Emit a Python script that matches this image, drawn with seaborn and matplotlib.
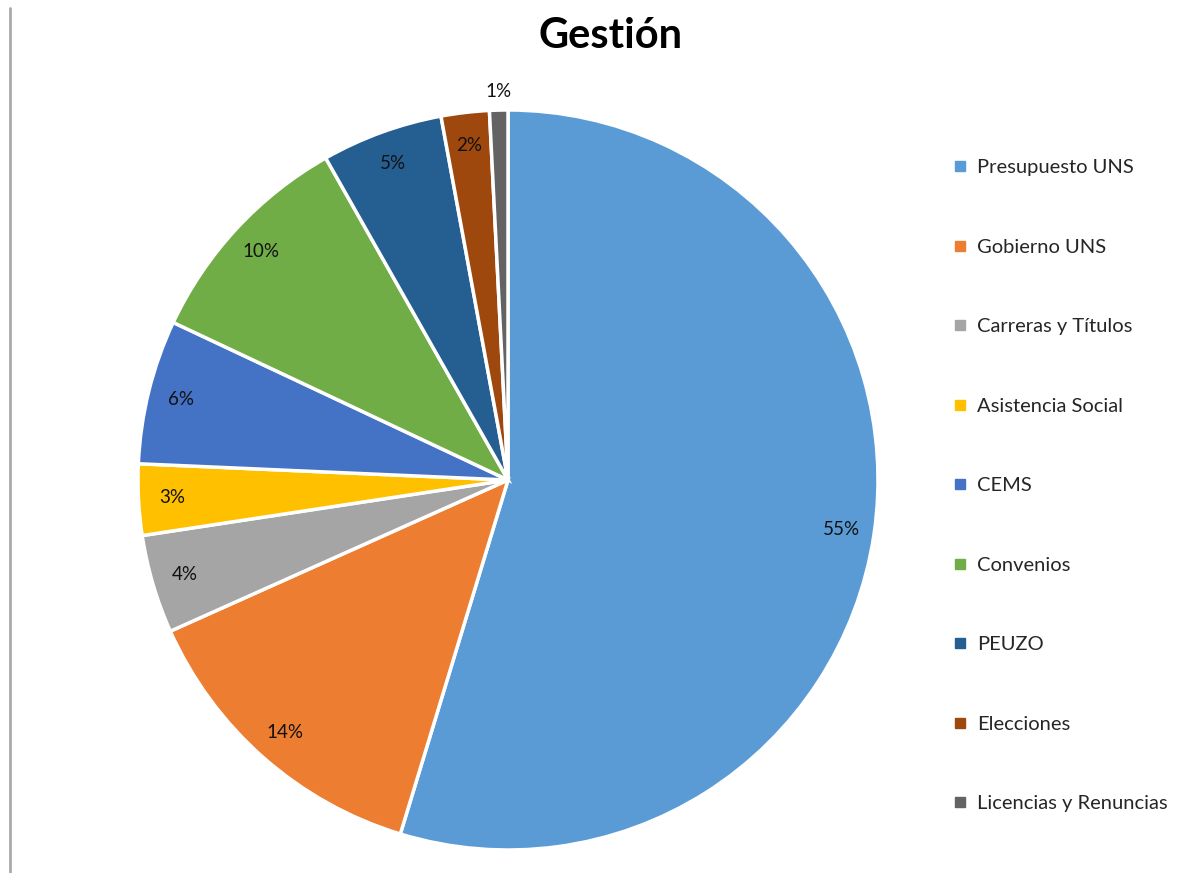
import numpy as np
import seaborn as sns
import matplotlib.pyplot as plt
from matplotlib.lines import Line2D

sns.set_style("white")
plt.rcParams['font.family'] = ['Lato', 'DejaVu Sans']

categories = ["Presupuesto UNS", "Gobierno UNS", "Carreras y Títulos", "Asistencia Social",
              "CEMS", "Convenios", "PEUZO", "Elecciones", "Licencias y Renuncias"]
values = [54.7, 13.6, 4.3, 3.1, 6.3, 9.8, 5.3, 2.1, 0.8]
colors = ["#5B9BD5", "#ED7D31", "#A5A5A5", "#FFC000", "#4472C4",
          "#70AD47", "#255E91", "#9E480E", "#636363"]

fig = plt.figure(figsize=(11.99, 8.73), dpi=100)
ax = fig.add_axes([138 / 1199, 23 / 873, 740 / 1199, 740 / 873])

wedges, texts, autotexts = ax.pie(values, colors=colors, startangle=90, counterclock=False,
                                  autopct='%1.0f%%', pctdistance=0.91,
                                  wedgeprops=dict(edgecolor='white', linewidth=2.5),
                                  textprops=dict(fontsize=13.5, color='#111111'))
ax.set_xlim(-1, 1)
ax.set_ylim(-1, 1)
ax.set_aspect('equal')
for t in autotexts:
    t.set_clip_on(False)
# the small slice gets its label outside the pie
x, y = autotexts[-1].get_position()
r = np.hypot(x, y)
autotexts[-1].set_position((x / r * 1.05, y / r * 1.05))

fig.text(611 / 1199, 1 - 36 / 873, "Gestión", ha='center', va='center',
         fontsize=30, fontweight='bold', color='black')

# thin gray border line on the left
fig.add_artist(Line2D([10.5 / 1199, 10.5 / 1199], [0, 1 - 8 / 873], color='#aaaaaa', linewidth=2))

handles = [Line2D([], [], marker='s', linestyle='', color=c, markersize=7) for c in colors]
fig.legend(handles, categories, loc='upper left', bbox_to_anchor=(934 / 1199, 1 - 141 / 873),
           frameon=False, fontsize=14.5, labelspacing=3.1, handlelength=0.8, handletextpad=0.45)

fig.savefig("out.png", dpi=100, facecolor='white')
